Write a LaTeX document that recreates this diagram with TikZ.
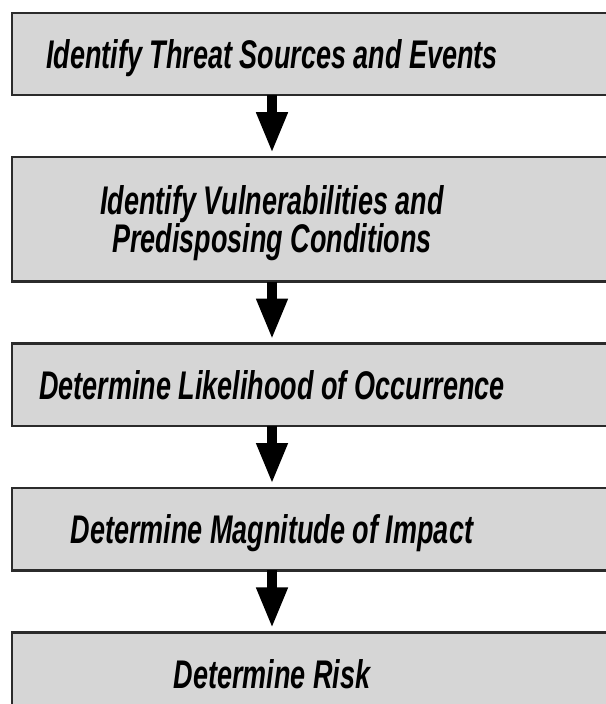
\documentclass[tikz,border=0pt]{standalone}
\usepackage{fontspec}
\setmainfont{Liberation Sans}[FakeStretch=0.675]
\usetikzlibrary{positioning, arrows.meta, backgrounds}

\definecolor{boxgray}{HTML}{D6D6D6}
\definecolor{boxedge}{HTML}{2B2B2B}

\tikzset{
    stepbox/.style={minimum width=520pt, minimum height=82pt, inner sep=0pt,
        text height=29pt, text depth=0pt, align=center,
        font=\fontsize{40}{38}\selectfont\bfseries\itshape},
    boxline/.style={draw=boxedge, fill=boxgray, line width=2.4pt},
    flow/.style={line width=10pt, -{Triangle[width=29pt,length=41pt]}, shorten >=4pt}
}

\begin{document}
\begin{tikzpicture}[x=1pt, y=1pt, node distance=62pt]
    \path[use as bounding box, clip] (0,0) rectangle (605,-704);

    % The five steps, top to bottom
    \node[stepbox] (threat) at (272,-54) {Identify Threat Sources and Events};
    \node[stepbox, minimum height=124pt, text height=67pt, below=of threat] (vuln)
        {Identify Vulnerabilities and\\Predisposing Conditions};
    \node[stepbox, below=of vuln] (likely) {Determine Likelihood of Occurrence};
    \node[stepbox, below=of likely] (impact) {Determine Magnitude of Impact};
    \node[stepbox, below=of impact] (risk) {Determine Risk};

    % Grey boxes behind the text, running off the right edge
    \begin{scope}[on background layer]
        \foreach \n in {threat,vuln,likely,impact,risk}
            \draw[boxline] (\n.north west) rectangle ([xshift=120pt]\n.south east);
    \end{scope}

    % Arrows between the steps
    \draw[flow] (threat) -- (vuln);
    \draw[flow] (vuln) -- (likely);
    \draw[flow] (likely) -- (impact);
    \draw[flow] (impact) -- (risk);
\end{tikzpicture}
\end{document}
